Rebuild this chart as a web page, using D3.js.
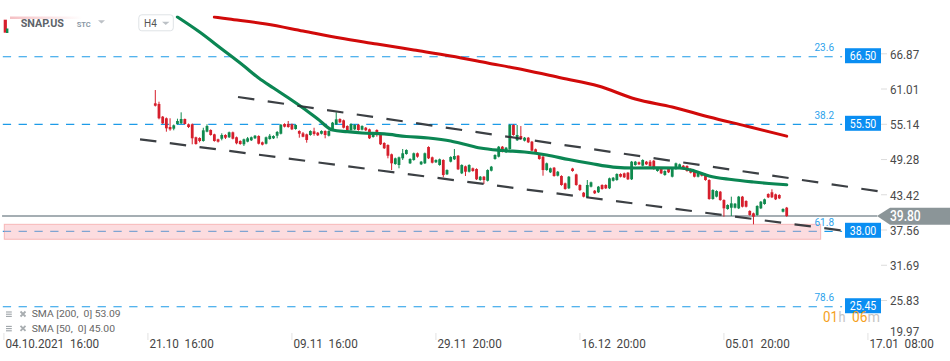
<!DOCTYPE html>
<html><head><meta charset="utf-8">
<script src="https://cdn.jsdelivr.net/npm/d3@7"></script>
<style>
body{margin:0;background:#fff;}
svg{display:block;font-family:Roboto,"Noto Sans",sans-serif;}
</style>
</head><body>
<svg id="c" width="950" height="361"></svg>
<script>
// ---------- DATA ----------
const symbol = "SNAP.US";
const ohlc = [ // [open, high, low, close]
[58.55,60.76,58.02,58.15],[58.44,58.82,55.89,56.06],[56.33,56.44,55.11,55.22],[56.06,56.19,53.83,54.39],
[54.61,56.06,53.99,54.22],[54.33,55.03,54.06,54.89],[55.11,55.99,55.03,55.61],[55.22,57.05,55.11,55.94],
[55.94,56.02,55.03,55.11],[55.06,55.19,54.44,54.61],[55.06,55.19,51.73,52.73],[52.90,53.00,51.67,51.78],
[52.78,52.90,52.06,52.28],[52.28,54.49,52.17,54.06],[53.83,55.06,53.73,54.77],[54.11,54.22,53.17,53.28],
[53.39,53.49,52.17,52.28],[52.56,52.67,52.03,52.17],[52.66,53.56,52.39,53.28],[53.28,53.40,52.61,52.83],
[52.90,53.85,52.78,53.73],[53.73,53.85,52.55,52.66],[52.90,53.02,51.73,51.90],[52.28,52.40,51.66,51.78],
[51.73,52.68,51.45,52.56],[52.17,52.95,52.06,52.73],[52.40,53.02,52.28,52.90],[52.73,53.28,52.61,53.16],
[53.11,53.23,51.71,51.83],[52.06,52.18,51.55,51.67],[51.83,53.02,51.71,52.90],[52.61,53.45,52.50,53.16],
[52.73,53.23,52.61,53.11],[53.16,53.94,52.73,53.78],[53.49,55.11,53.37,54.99],[55.11,55.23,54.54,54.66],
[55.11,55.61,54.49,54.61],[55.06,55.18,54.10,54.22],[54.28,55.06,54.16,54.94],[53.94,54.06,52.83,53.49],
[53.55,53.78,52.90,52.99],[53.39,53.51,52.00,52.45],[53.28,54.06,53.16,53.94],[53.89,54.49,53.16,53.45],
[53.66,53.78,53.11,53.23],[53.49,54.06,53.37,53.94],[53.94,54.06,52.73,53.28],[53.16,54.06,53.04,53.94],
[54.11,55.45,53.99,55.33],[55.06,57.05,54.94,55.89],[55.94,56.06,55.27,55.39],[55.72,55.84,54.37,54.49],
[54.77,54.89,53.94,54.06],[54.11,55.23,53.99,55.11],[54.22,55.06,54.10,54.94],[54.99,55.11,53.99,54.11],
[54.16,54.89,54.04,54.77],[54.49,54.61,53.94,54.06],[54.22,54.34,52.61,52.73],[52.95,53.68,52.83,53.56],
[54.11,54.23,53.00,53.45],[53.56,53.68,51.61,51.73],[51.95,52.07,50.95,51.07],[51.61,51.73,49.40,49.83],
[50.07,50.19,47.45,48.57],[48.45,49.52,48.33,49.40],[48.29,49.69,47.74,49.57],[49.40,50.95,49.12,50.24],
[50.12,50.90,50.00,50.78],[48.57,49.41,48.45,49.29],[49.12,50.36,49.00,50.24],[50.24,50.36,49.50,49.67],
[48.40,48.96,48.28,48.84],[48.57,50.36,48.45,50.24],[51.28,51.40,49.28,49.40],[49.57,49.69,48.55,48.67],
[48.74,49.24,48.62,49.12],[48.29,49.36,48.17,49.24],[49.12,49.24,46.24,46.62],[46.74,47.57,46.62,47.45],
[48.84,49.74,48.72,49.62],[49.24,50.95,49.12,49.78],[49.83,49.95,47.45,47.57],[46.90,48.41,46.78,48.29],
[48.07,48.19,46.46,47.17],[47.17,48.41,47.05,48.29],[47.74,47.86,47.17,47.29],[47.62,47.74,45.79,45.91],
[45.79,46.46,45.67,46.34],[46.34,46.46,45.13,45.79],[45.67,47.57,45.55,47.45],[47.34,48.13,47.22,48.01],
[49.29,50.07,49.17,49.95],[49.67,51.45,49.55,51.33],[51.33,51.45,50.38,50.50],[50.40,51.29,50.28,51.17],
[50.95,55.06,50.83,54.94],[54.94,55.06,53.16,53.28],[52.40,54.94,52.28,53.28],[53.11,54.77,52.49,52.61],
[52.33,52.95,52.21,52.83],[52.83,52.95,51.94,52.06],[52.17,52.29,50.55,50.67],[50.90,51.02,50.11,50.23],
[49.95,50.07,49.17,49.29],[49.67,49.79,46.51,47.45],[47.45,48.69,47.33,48.57],[47.07,47.86,46.95,47.74],
[47.84,47.96,46.34,46.46],[46.51,47.29,46.39,47.17],[46.46,46.58,44.84,44.96],[45.24,45.36,44.18,44.30],
[44.41,46.46,44.29,46.34],[47.70,47.82,47.17,47.29],[46.73,46.85,44.84,44.96],[44.96,45.08,43.96,44.13],
[43.68,43.80,42.90,43.02],[42.91,45.79,42.79,44.96],[44.68,45.53,44.56,45.41],[44.01,44.13,43.46,43.58],
[43.75,44.80,43.63,44.68],[44.96,45.08,44.18,44.30],[44.96,45.08,44.29,44.41],[44.41,46.19,44.29,46.07],
[45.67,46.29,45.55,46.17],[45.79,46.91,45.67,46.79],[46.79,46.91,46.22,46.34],[46.90,47.02,46.12,46.24],
[47.01,47.13,45.79,45.91],[45.91,48.96,45.79,48.84],[48.29,48.96,48.17,48.84],[48.74,48.86,48.28,48.40],
[48.17,49.24,48.05,49.12],[48.84,48.96,48.28,48.40],[48.84,49.12,48.00,48.12],[49.00,49.12,47.50,47.62],
[47.29,47.86,47.17,47.74],[47.74,47.86,46.78,46.90],[46.62,47.41,46.50,47.29],[47.62,47.74,46.95,47.07],
[46.34,47.74,46.22,47.62],[47.62,48.69,47.50,48.57],[47.84,48.52,47.72,48.40],[48.17,48.29,47.50,47.62],
[48.12,48.24,47.17,47.29],[47.62,47.74,46.89,47.01],[47.29,47.41,46.22,46.34],[46.34,47.19,46.22,47.07],
[46.90,47.02,46.39,46.51],[46.73,46.85,45.67,45.79],[45.79,45.91,42.51,42.63],[42.63,44.25,42.51,44.13],
[43.02,44.08,42.90,43.96],[43.85,43.97,42.34,42.46],[42.46,42.58,39.69,41.08],[40.97,41.75,40.85,41.63],
[41.18,43.02,39.80,41.91],[41.18,41.97,41.06,41.85],[41.08,43.14,40.96,43.02],[43.02,43.14,41.23,41.35],
[42.30,42.42,41.23,41.35],[40.64,40.76,39.85,39.97],[40.25,40.37,38.42,39.69],[39.97,41.59,39.85,41.47],
[41.08,42.30,40.96,42.18],[41.80,42.70,41.68,42.58],[43.46,43.58,42.79,42.91],[43.75,44.25,42.79,42.91],
[43.41,43.53,42.46,42.58],[43.30,43.42,42.62,42.74],[40.52,41.09,40.40,40.97],[41.19,41.31,39.68,39.80]
];
// SMA samples: [bar index, value]
const sma50 = [[6,72.91],[12,70.41],[18,67.59],[24,64.76],[28,62.76],[32,61.10],[36,59.47],
[40,57.77],[44,55.94],[48,54.11],[52,53.83],[56,53.61],[62,53.45],[68,53.03],[74,52.78],[80,52.28],
[84,51.70],[88,51.12],[94,50.70],[100,50.45],[106,49.95],[112,49.20],[118,48.54],[124,47.95],[130,47.79],
[136,47.82],[142,47.79],[146,47.29],[150,46.46],[156,45.87],[162,45.46],[168,45.13],[171,45.00]];
const sma200 = [[16,72.91],[20,72.58],[30,71.74],[40,70.58],[50,69.41],[60,68.42],[70,67.42],
[80,66.42],[90,65.26],[100,64.09],[110,62.76],[120,61.43],[130,59.27],[140,57.94],[150,56.27],[160,54.77],[171,53.09]];
const trendUpper = [[22.4,59.60],[196.3,43.88]];
const trendLower = [[-4.14,52.56],[186.0,37.39]];
const fibRatios = ["23.6","38.2","61.8","78.6"];
const fibPrices = [66.30,55.06,37.26,24.71];
const fibLabels = ["66.50","55.50","38.00","25.45"];
const zonePrices = [38.42,35.93];
const zoneBars = [-40.9,180.2];
const lastPrice = 39.80;
const yTicks = [66.87,61.01,55.14,49.28,43.42,37.56,31.69,25.83,19.97];
const xTickBars = [-41,-2,37,76,115,154,193];
const xTickLabels = ["04.10.2021  16:00","21.10  16:00","09.11  16:00","29.11  20:00","16.12  20:00","05.01  20:00","17.01  08:00"];
const legendRows = [["SMA [200,  0]","53.09"],["SMA [50,  0]","45.00"]];
const timer = ["01","h","06","m"];

// ---------- DRAW ----------
const RED="#d61f2c", GREEN="#0f8a4e", BLUE="#1d9be8";
const svg = d3.select("#c");
const x = d3.scaleLinear().domain([0, ohlc.length-1]).range([155.3, 786.7]);
const y = d3.scaleLinear().domain([66.87, 25.83]).range([53.3, 300]);

const defs = svg.append("defs");
defs.append("clipPath").attr("id","plot").append("rect").attr("x",0).attr("y",15.5).attr("width",882).attr("height",330);
const grad = defs.append("linearGradient").attr("id","hdr").attr("x1","0").attr("x2","1");
grad.append("stop").attr("offset","0").attr("stop-color","#f4b9bd").attr("stop-opacity",0.9);
grad.append("stop").attr("offset","1").attr("stop-color","#f4b9bd").attr("stop-opacity",0);

function condense(sel, f){ sel.each(function(){ const L=this.getComputedTextLength(); d3.select(this).attr("textLength",L*f).attr("lengthAdjust","spacingAndGlyphs"); }); }

const g = svg.append("g").attr("clip-path","url(#plot)");

// fib lines
g.selectAll("line.fib").data(fibPrices).join("line").attr("class","fib")
  .attr("x1",x(-41.3)).attr("x2",x(186)).attr("y1",d=>y(d)).attr("y2",d=>y(d))
  .attr("stroke",BLUE).attr("stroke-width",1.2).attr("stroke-dasharray","8.3,7.5");

// zone
g.append("rect").attr("x",x(zoneBars[0])).attr("width",x(zoneBars[1])-x(zoneBars[0]))
  .attr("y",y(zonePrices[0])).attr("height",y(zonePrices[1])-y(zonePrices[0]))
  .attr("fill","rgba(248,178,184,0.45)").attr("stroke","rgba(240,140,140,0.55)").attr("stroke-width",1);

// current price line
g.append("line").attr("x1",x(-41.5)).attr("x2",x(195.5)).attr("y1",y(lastPrice)).attr("y2",y(lastPrice))
  .attr("stroke","#87939a").attr("stroke-width",1.3);

// candles
const bw = 2.8;
const cg = g.append("g");
cg.selectAll("line").data(ohlc).join("line")
  .attr("x1",(d,i)=>x(i)).attr("x2",(d,i)=>x(i)).attr("y1",d=>y(d[1])).attr("y2",d=>y(d[2]))
  .attr("stroke",d=>d[3]>=d[0]?GREEN:RED).attr("stroke-width",1);
cg.selectAll("rect").data(ohlc).join("rect")
  .attr("x",(d,i)=>x(i)-bw/2).attr("width",bw)
  .attr("y",d=>y(Math.max(d[0],d[3]))).attr("height",d=>Math.max(1,Math.abs(y(d[0])-y(d[3]))))
  .attr("fill",d=>d[3]>=d[0]?GREEN:RED);

// SMAs
const ln = d3.line().x(d=>x(d[0])).y(d=>y(d[1])).curve(d3.curveMonotoneX);
g.append("path").attr("d",ln(sma200)).attr("fill","none").attr("stroke","#d10a0a").attr("stroke-width",3).attr("stroke-linecap","round");
g.append("path").attr("d",ln(sma50)).attr("fill","none").attr("stroke","#0b8653").attr("stroke-width",3.2).attr("stroke-linecap","round");

// trend lines
const tl = d3.line().x(d=>x(d[0])).y(d=>y(d[1]));
[trendUpper,trendLower].forEach(t=>{
  g.append("path").attr("d",tl(t)).attr("fill","none").attr("stroke","#2b3034").attr("stroke-width",2.2)
   .attr("stroke-dasharray","16.5,13.5").attr("opacity",0.92);
});

// fib ratio texts and price boxes
fibPrices.forEach((p,k)=>{
  const yy=y(p);
  svg.append("text").attr("x",834).attr("y",yy-5.3).attr("text-anchor","end").attr("font-size",10)
    .attr("fill","#2ea3ec").text(fibRatios[k]);
  svg.append("rect").attr("x",845).attr("y",yy-8.5).attr("width",36).attr("height",15).attr("fill","#0a8ef2");
  const t=svg.append("text").attr("x",863).attr("y",yy+3.5).attr("text-anchor","middle").attr("font-size",12)
    .attr("fill","#fff").text(fibLabels[k]);
  condense(t,0.88);
});

// right axis
const ax = svg.append("g").attr("transform","translate(881,0)")
  .call(d3.axisRight(y).tickValues(yTicks).tickFormat(d3.format(".2f")).tickSize(6).tickPadding(3));
ax.select(".domain").remove();
ax.selectAll(".tick line").attr("stroke","#dcdcdc").attr("opacity",d=>d===19.97?0:1);
ax.selectAll(".tick text").attr("font-family","Roboto").attr("font-size",13.5).attr("fill","#4a4a4a")
  .attr("dy","0.36em").attr("y",d=>d===19.97?-5:0);
condense(ax.selectAll(".tick text"),0.86);

// last price tag
const ly=y(lastPrice);
svg.append("path").attr("d",`M877,${ly}L890,${ly-8.3}H950V${ly+8.7}H890Z`).attr("fill","#8b9598");
const lt=svg.append("text").attr("x",890).attr("y",ly+5.3).attr("font-size",14).attr("font-weight",500)
  .attr("fill","#fff").text(lastPrice.toFixed(2));
condense(lt,0.86);

// bottom axis
xTickBars.forEach((b,k)=>{
  const xx=x(b);
  svg.append("line").attr("x1",xx).attr("x2",xx).attr("y1",333).attr("y2",340).attr("stroke","#e2e2e2");
  const t=svg.append("text").attr("x",xx+1.5).attr("y",348.3).attr("font-size",13).attr("fill","#444")
    .style("white-space","pre").text(xTickLabels[k]);
  condense(t,0.9);
});

// timer
const timerX=[823,838.5,852,867.5], timerW=[15,7,15.5,12.5];
timer.forEach((s,k)=>{
  svg.append("text").attr("x",timerX[k]).attr("y",321.5).attr("font-size",14.5)
    .attr("fill",k%2===0?"#f5a11c":"#c4c4c4").attr("textLength",timerW[k]).attr("lengthAdjust","spacingAndGlyphs").text(s);
});

// legend
const legendW=[89,83.3];
legendRows.forEach((r,k)=>{
  const yy=317.3+k*14.4;
  for(let j=0;j<3;j++) svg.append("line").attr("x1",6).attr("x2",11.8).attr("y1",yy-5.3+j*2.2).attr("y2",yy-5.3+j*2.2).attr("stroke","#9ea4a8").attr("stroke-width",1.1);
  svg.append("path").attr("d",`M20.5,${yy-5.8}L25.5,${yy-0.8}M25.5,${yy-5.8}L20.5,${yy-0.8}`).attr("stroke","#a8adb0").attr("stroke-width",1.8);
  svg.append("text").attr("x",31.7).attr("y",yy).attr("font-size",9.5).attr("fill","#666").style("white-space","pre")
    .attr("textLength",legendW[k]).attr("lengthAdjust","spacingAndGlyphs").text(r[0]+" "+r[1]);
});

// header
svg.append("rect").attr("x",10).attr("y",16.5).attr("width",72).attr("height",2.5).attr("fill","url(#hdr)");
svg.append("rect").attr("x",3.7).attr("y",19.7).attr("width",3.2).attr("height",13).attr("fill",RED);
svg.append("rect").attr("x",6).attr("y",28.5).attr("width",2.4).attr("height",4.5).attr("fill",GREEN);
svg.append("text").attr("x",20.7).attr("y",26.8).attr("font-size",11.5).attr("font-weight",700).attr("fill","#5d6369")
  .attr("textLength",43.3).attr("lengthAdjust","spacingAndGlyphs").text(symbol);
svg.append("text").attr("x",76.7).attr("y",26.8).attr("font-size",7.5).attr("font-weight",700).attr("fill","#8b99a6").text("STC");
svg.append("path").attr("d","M98,20.3H105L101.5,23.6Z").attr("fill","#bcc1c6");
svg.append("rect").attr("x",138.8).attr("y",14.8).attr("width",34.5).attr("height",16).attr("rx",3).attr("fill","#fff").attr("stroke","#dfe3e6");
svg.append("text").attr("x",144).attr("y",26.7).attr("font-size",10).attr("fill","#555").text("H4");
svg.append("path").attr("d","M162,21.8H169.5L165.75,25Z").attr("fill","#bcc1c6");
</script>
</body></html>
